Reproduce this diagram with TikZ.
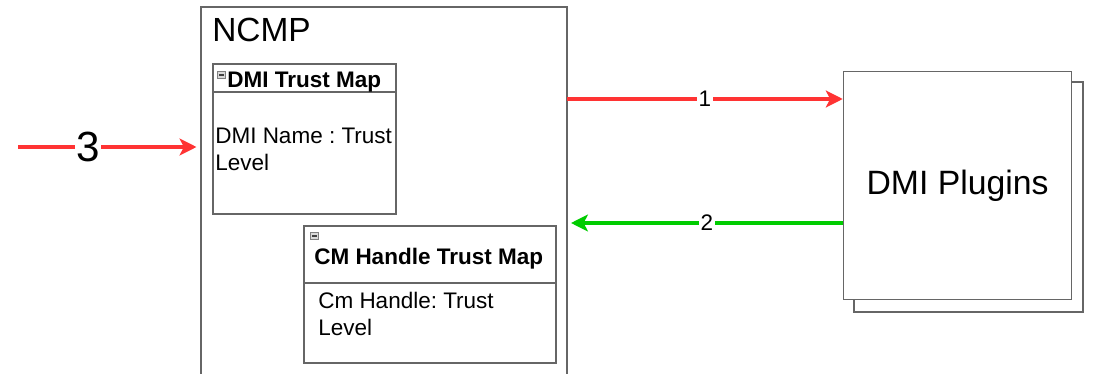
\documentclass[tikz,border=0pt]{standalone}
\usepackage{fontspec}
\setmainfont{Liberation Sans}
\usetikzlibrary{positioning, calc, fit, arrows.meta}
\definecolor{linegray}{HTML}{666666}
\definecolor{flowred}{HTML}{FF3333}
\definecolor{flowgreen}{HTML}{00CC00}
\frenchspacing

\begin{document}
\begin{tikzpicture}[
    x=0.025cm, y=-0.025cm,
    box/.style={draw=linegray, line width=0.8pt, inner sep=0pt, fill=white},
    icon/.style={draw=gray, fill=gray!30, inner sep=0pt, line width=0.4pt,
      minimum width=5.5pt, minimum height=5pt,
      path picture={\draw[black!75, line width=0.8pt]
        ([xshift=1pt]path picture bounding box.west) --
        ([xshift=-1pt]path picture bounding box.east);}},
    title/.style={anchor=base west, inner sep=0pt, font=\fontsize{16}{19}\selectfont\bfseries},
    entry/.style={anchor=north west, inner sep=0pt, align=left, font=\fontsize{16}{19}\selectfont},
    flow/.style={line width=2.3pt, -{Stealth[length=12pt, width=12pt, inset=3pt]}},
    num/.style={fill=white, inner sep=1pt, font=\fontsize{16}{19}\selectfont}]

  \useasboundingbox (0, 0) rectangle (1094, 374);

  % ncmp
  \node[box, fit={(201, 7) (567, 385)}] (ncmp) {};
  \node[anchor=base west, inner sep=0pt, font=\fontsize{23.8}{28}\selectfont]
    at (212, 42) (ncmp-name) {NCMP};

  % dmi trust map
  \node[box, fit={(213, 64) (396, 92)}] (dmi-head) {};
  \node[box, fit={(213, 92) (396, 214)}] (dmi-body) {};
  \node[icon] at (221.5, 75) (dmi-icon) {};
  \node[title] at (227, 88) (dmi-title) {DMI Trust Map};
  \node[entry] at (215, 128) (dmi-entry) {DMI Name : Trust\\Level};

  % cm handle trust map
  \node[box, fit={(304, 226) (556, 283)}] (cm-head) {};
  \node[box, fit={(304, 283) (556, 363)}] (cm-body) {};
  \node[icon] at (314.5, 236) (cm-icon) {};
  \node[title] at (314, 264) (cm-title) {CM Handle Trust Map};
  \node[entry] at (318, 292) (cm-entry) {Cm Handle: Trust\\Level};

  % plugins
  \node[box, fit={(854, 82) (1083, 312)}] (plugins-back) {};
  \node[box, minimum width=162.4pt, minimum height=162.4pt,
    font=\fontsize{24}{28}\selectfont] at (957.5, 185.5) (plugins) {DMI Plugins};

  % flows
  \coordinate (to-plugins) at (567, 99);
  \coordinate (from-plugins) at (571, 223);
  \coordinate (request) at (18, 147);
  \draw[flow, flowred] (to-plugins) -- (to-plugins -| plugins.west)
    node[num, text=black, midway] (n1) {1};
  \draw[flow, flowgreen] (from-plugins -| plugins.west) -- (from-plugins)
    node[num, text=black, midway] (n2) {2};
  \draw[flow, flowred, shorten >=2.8pt] (request) -- (request -| ncmp.west)
    node[num, text=black, pos=0.385, font=\fontsize{30}{34}\selectfont] (n3) {3};
\end{tikzpicture}
\end{document}
